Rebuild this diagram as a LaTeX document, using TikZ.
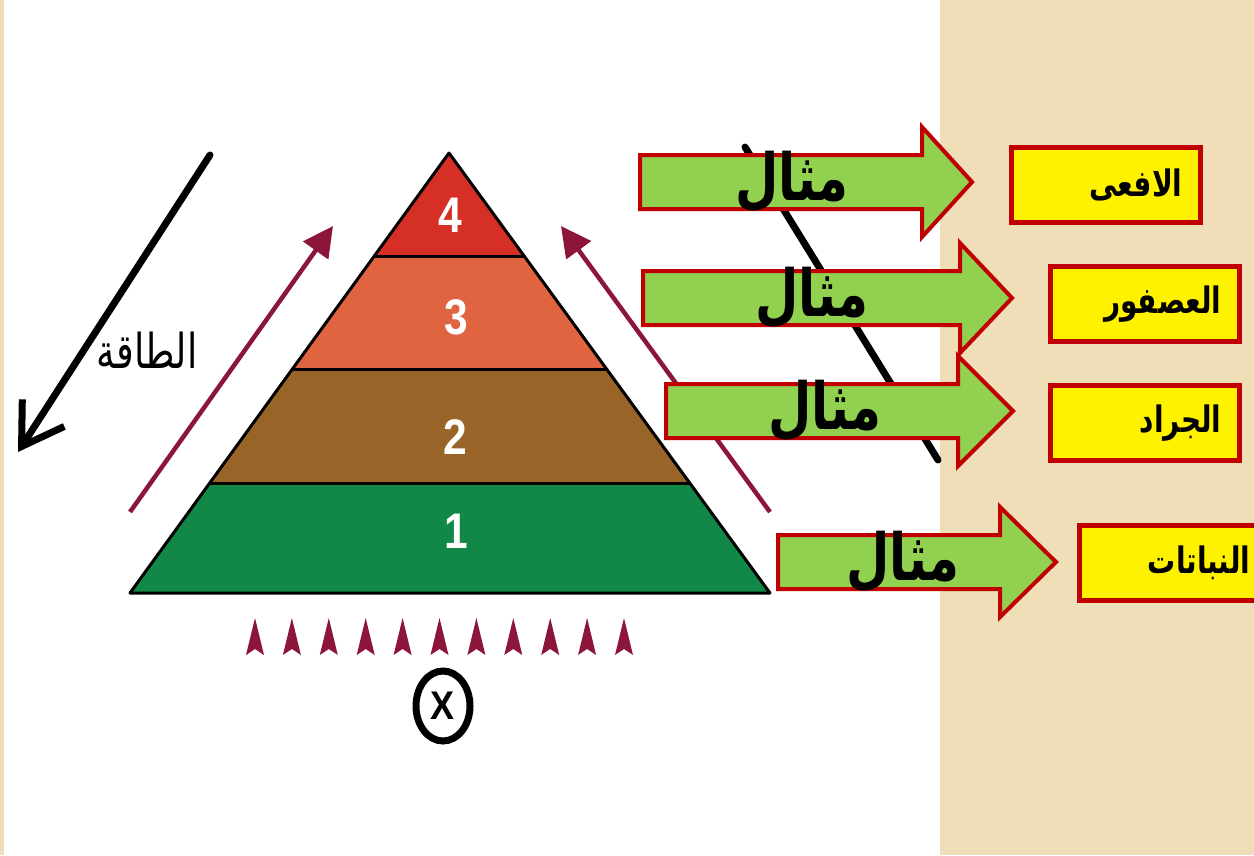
\documentclass[tikz,border=0pt]{standalone}
\usepackage{fontspec}
\setmainfont{Liberation Sans}
\newfontfamily\arabicfont[Script=Arabic]{DejaVu Sans}
\TeXXeTstate=1
\usetikzlibrary{arrows.meta, positioning, calc, shapes.geometric}

\definecolor{parchment}{RGB}{240,222,184}
\definecolor{layerA}{RGB}{18,136,72}
\definecolor{layerB}{RGB}{152,100,40}
\definecolor{layerC}{RGB}{224,100,64}
\definecolor{layerD}{RGB}{214,48,38}
\definecolor{flowred}{RGB}{140,22,58}
\definecolor{boxred}{RGB}{192,0,0}
\definecolor{exgreen}{RGB}{146,208,80}

\newcommand{\tallar}[1]{\scalebox{1}[1.3]{\beginR #1\endR}}

\begin{document}
\begin{tikzpicture}[
  x=1pt, y=-1pt,
  level/.style = {draw=black, line width=3pt, line join=round},
  num/.style = {text=white, xscale=0.85, font=\fontsize{50}{50}\selectfont\bfseries},
  flow/.style = {draw=flowred, line width=4.5pt, -{Triangle[length=30pt,width=30pt]}},
  energy/.style = {draw=black, line width=7pt, line cap=round, -{Straight Barb[length=40pt,width=50pt]}},
  exarrow/.style = {draw=boxred, fill=exgreen, line width=4pt, line join=miter},
  extext/.style = {font=\fontsize{50}{50}\selectfont\arabicfont\bfseries},
  exbox/.style = {draw=boxred, fill=yellow, line width=5pt, minimum width=189pt, minimum height=75pt,
    inner xsep=18pt, text width=153pt, align=right, font=\fontsize{28}{28}\selectfont\arabicfont\bfseries}
  ]
  \useasboundingbox (0,0) rectangle (1254,855);
  \fill[parchment] (0,0) rectangle (1254,855);
  \fill[white] (4,0) rectangle (940,855);

  \coordinate (@k0) at (745,147);
  \coordinate (@k1) at (938,460);
  \draw[line width=7pt, line cap=round] (@k0) -- (@k1);

  \coordinate (@top) at (449,153);
  \coordinate (@bl) at (130,593);
  \coordinate (@br) at (770,593);
  \foreach \t [count=\i] in {0.236,0.493,0.75} {
    \coordinate (@l\i) at ($(@top)!\t!(@bl)$);
    \coordinate (@r\i) at ($(@top)!\t!(@br)$);
  }
  \fill[layerD] (@top) -- (@r1) -- (@l1) -- cycle;
  \fill[layerC] (@l1) -- (@r1) -- (@r2) -- (@l2) -- cycle;
  \fill[layerB] (@l2) -- (@r2) -- (@r3) -- (@l3) -- cycle;
  \fill[layerA] (@l3) -- (@r3) -- (@br) -- (@bl) -- cycle;
  \draw[level] (@top) -- (@br) -- (@bl) -- cycle;
  \foreach \i in {1,2,3} \draw[level] (@l\i) -- (@r\i);

  \node[num] (@n4) at (450,215) {4};
  \node[num] (@n3) at (456,317) {3};
  \node[num] (@n2) at (455,437) {2};
  \node[num] (@n1) at (456,531) {1};

  \coordinate (@fl0) at (130,512);
  \coordinate (@fl1) at (333,226);
  \coordinate (@fr0) at (770,512);
  \coordinate (@fr1) at (561,226);
  \draw[flow] (@fl0) -- (@fl1);
  \draw[flow] (@fr0) -- (@fr1);

  \coordinate (@e0) at (210,155);
  \coordinate (@e1) at (18,452);
  \draw[energy] (@e0) -- (@e1);
  \node[font=\fontsize{37}{37}\selectfont\arabicfont] (@energy) at (147,350) {\tallar{الطاقة}};

  \foreach \k in {0,...,10}
    \fill[flowred] ({255+36.9*\k},618) -- ++(9,37) -- ++(-9,-6) -- ++(-9,6) -- cycle;
  \node[draw, ellipse, line width=7pt, minimum width=60pt, minimum height=70pt, inner sep=0pt,
    xscale=0.9, font=\fontsize{40}{40}\selectfont\bfseries] (@x) at (443,706) {X};

  \foreach \l/\b/\t/\c/\m [count=\i] in {640/922/972/182/792, 643/960/1012/298/812,
      666/958/1013/411/825, 778/1000/1056/562/903} {
    \draw[exarrow] (\l,\c-27) -- (\b,\c-27) -- (\b,\c-55) -- (\t,\c) -- (\b,\c+55) -- (\b,\c+27) -- (\l,\c+27) -- cycle;
    \node[extext] (@m\i) at (\m,\c) {\tallar{مثال}};
  }

  \node[exbox] (@snake) at (1106,185) {\tallar{الافعى}};
  \node[exbox] (@bird) at (1145,304) {\tallar{العصفور}};
  \node[exbox] (@locust) at (1145,423) {\tallar{الجراد}};
  \node[exbox] (@plants) at (1174,563) {\tallar{النباتات}};
\end{tikzpicture}
\end{document}
